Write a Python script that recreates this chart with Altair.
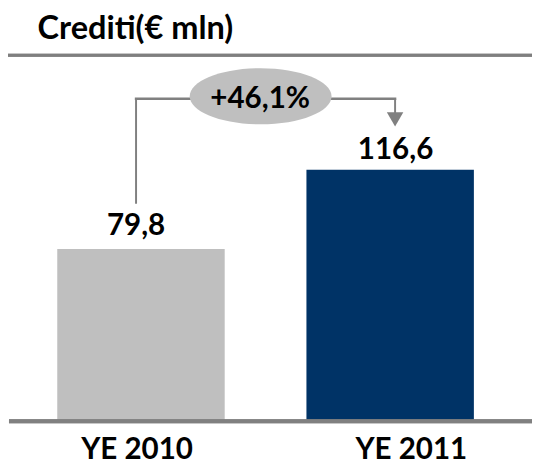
import altair as alt
import pandas as pd

# ---- data ----
categories = ["YE 2010", "YE 2011"]
values = [79.8, 116.6]
value_labels = ["79,8", "116,6"]
growth_label = "+46,1%"
title_text = "Crediti(€ mln)"

# ---- styles ----
bar_colors = ["#bfbfbf", "#003366"]
line_gray = "#808080"
FONT = "Lato"
FS = 30
connector_level = 149.5  # data units where the connector runs

bars_df = pd.DataFrame({"cat": categories, "value": values, "label": value_labels,
                        "base": [0] * len(categories)})
conn_df = pd.DataFrame({"from": [categories[0]], "to": [categories[1]],
                        "v0": [values[0]], "v1": [values[1]],
                        "level": [connector_level], "txt": [growth_label]})

W, H = 532, 411
xscale = alt.Scale(domain=categories, range=[50, 473], paddingInner=0.328, paddingOuter=0)
yscale = alt.Scale(domain=[-17.81, 169.86], nice=False, zero=False)

def X(field):
    return alt.X(f"{field}:N", scale=xscale, axis=None, bandPosition=0.5)

bars = alt.Chart(bars_df).mark_bar(size=170).encode(
    x=alt.X("cat:N", scale=xscale, axis=None),
    y=alt.Y("value:Q", scale=yscale, axis=None),
    y2="base:Q",
    color=alt.Color("cat:N", scale=alt.Scale(domain=categories, range=bar_colors), legend=None),
)

baseline = alt.Chart(bars_df).mark_rule(color=line_gray, strokeWidth=4).encode(
    y=alt.Y("base:Q", scale=yscale, axis=None),
    x=alt.value(1), x2=alt.value(W),
)

title_rule = alt.Chart(bars_df).mark_rule(color="#7f7f7f", strokeWidth=3).encode(
    y=alt.value(0.5), x=alt.value(0), x2=alt.value(W),
)

label_dx = [-5, 5.5]
label_dy = [-14, -10.5]
cat_dx = [-4, 21.5]
text_layers = []
for i, c in enumerate(categories):
    sub = alt.Chart(bars_df).transform_filter(alt.datum.cat == c)
    text_layers.append(sub.mark_text(font=FONT, fontSize=FS, fontWeight="bold", color="black",
                                     baseline="alphabetic", dx=label_dx[i], dy=label_dy[i]).encode(
        x=X("cat"), y=alt.Y("value:Q", scale=yscale, axis=None), text="label:N"))
    text_layers.append(sub.mark_text(font=FONT, fontSize=FS, fontWeight="bold", color="black",
                                     baseline="alphabetic", dx=cat_dx[i], dy=38).encode(
        x=X("cat"), y=alt.Y("base:Q", scale=yscale, axis=None), text="cat:N"))

conn = alt.Chart(conn_df)
left_v = conn.mark_rule(color=line_gray, strokeWidth=2, xOffset=-5, yOffset=-46).encode(
    x=X("from"), y=alt.Y("v0:Q", scale=yscale, axis=None), y2="level:Q")
horiz = conn.mark_rule(color=line_gray, strokeWidth=2.5, xOffset=-5, x2Offset=5, strokeCap="square").encode(
    x=X("from"), x2=alt.X2("to:N", bandPosition=0.5), y=alt.Y("level:Q", scale=yscale, axis=None))
right_v = conn.mark_rule(color=line_gray, strokeWidth=2, xOffset=5, y2Offset=-56).encode(
    x=X("to"), y=alt.Y("level:Q", scale=yscale, axis=None), y2="v1:Q")
arrow = conn.mark_point(shape="triangle-down", size=280, filled=True, opacity=1,
                        color=line_gray, xOffset=5, yOffset=-51).encode(
    x=X("to"), y=alt.Y("v1:Q", scale=yscale, axis=None))
ellipse = conn.mark_point(shape="M-1,0A1,0.396,0,1,0,1,0A1,0.396,0,1,0,-1,0Z", size=20736,
                          filled=True, opacity=1, color="#bfbfbf", strokeWidth=0,
                          xOffset=121.5, yOffset=-2.5).encode(
    x=X("from"), y=alt.Y("level:Q", scale=yscale, axis=None))
growth = conn.mark_text(font=FONT, fontSize=FS, fontWeight="bold", color="black",
                        baseline="alphabetic", dx=121, dy=9).encode(
    x=X("from"), y=alt.Y("level:Q", scale=yscale, axis=None), text="txt:N")

chart = alt.layer(
    title_rule, left_v, horiz, right_v, arrow, ellipse, growth, bars, baseline, *text_layers
).properties(
    width=W, height=H,
    autosize=alt.AutoSizeParams(type="none"),
    padding={"top": 44, "left": 0, "right": 0, "bottom": 4},
    title=alt.TitleParams(title_text, anchor="start", frame="group", font=FONT, fontSize=33,
                          fontWeight="bold", color="black", baseline="bottom", offset=7, dx=30, dy=32),
).configure(background="white", view=alt.ViewConfig(stroke=None))

chart.save("out.html", embed_options={"renderer": "svg", "actions": False})
